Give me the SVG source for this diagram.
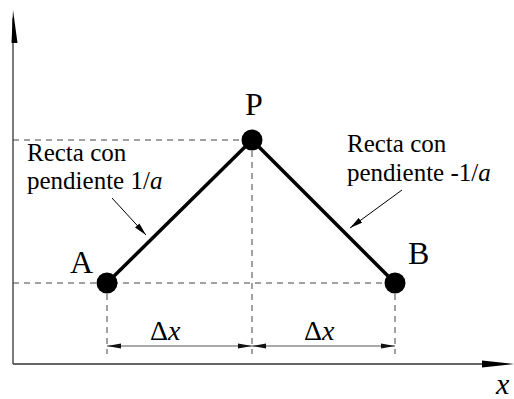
<svg xmlns="http://www.w3.org/2000/svg" width="514" height="399" viewBox="0 0 514 399">
<style>
.t{font-family:"Liberation Serif","Times New Roman",serif;fill:#000}
.dash{stroke:#444;stroke-width:1;stroke-dasharray:6,5;fill:none}
.axis{stroke:#333;stroke-width:1.3;fill:none}
.main{stroke:#000;stroke-width:3.5;fill:none}
.dim{stroke:#555;stroke-width:1.2;fill:none}
.ptr{stroke:#000;stroke-width:1;fill:none}
</style>
<defs>
<marker id="dimArrow" viewBox="0 0 14 6" refX="14" refY="3" markerWidth="14" markerHeight="6" markerUnits="userSpaceOnUse" orient="auto-start-reverse">
<path d="M0,0.5 L14,3 L0,5.5 Z" fill="#111"/>
</marker>
<marker id="ptrArrow" viewBox="0 0 13 6" refX="13" refY="3" markerWidth="13" markerHeight="6" markerUnits="userSpaceOnUse" orient="auto">
<path d="M0,0 L13,3 L0,6 Z" fill="#000"/>
</marker>
</defs>
<g id="axes">
<line class="axis" x1="13" y1="18" x2="13" y2="364"/>
<polygon points="13,10 11.5,43 17.5,43" fill="#000"/>
<line class="axis" x1="13" y1="364" x2="490" y2="364"/>
<polygon points="514,364 482,360.5 482,367.5" fill="#000"/>
<text class="t" x="496" y="394" font-size="30" font-style="italic">x</text>
</g>
<g id="guides">
<line class="dash" x1="13" y1="140" x2="252" y2="140"/>
<line class="dash" x1="13" y1="283" x2="395" y2="283"/>
<line class="dash" x1="252" y1="140" x2="252" y2="354"/>
<line class="dash" x1="107" y1="283" x2="107" y2="354"/>
<line class="dash" x1="395" y1="283" x2="395" y2="354"/>
</g>
<g id="connectors">
<line class="main" x1="107" y1="283" x2="252" y2="140"/>
<line class="main" x1="252" y1="140" x2="395" y2="283"/>
<line class="ptr" x1="112" y1="198" x2="146" y2="235" marker-end="url(#ptrArrow)"/>
<line class="ptr" x1="402" y1="190" x2="350" y2="228" marker-end="url(#ptrArrow)"/>
<line class="dim" x1="107" y1="346" x2="252" y2="346" marker-start="url(#dimArrow)" marker-end="url(#dimArrow)"/>
<line class="dim" x1="252" y1="346" x2="395" y2="346" marker-start="url(#dimArrow)" marker-end="url(#dimArrow)"/>
</g>
<g id="nodeA">
<circle cx="107" cy="283" r="10.5" fill="#000"/>
<text class="t" x="70" y="273" font-size="32">A</text>
</g>
<g id="nodeP">
<circle cx="252" cy="140" r="10.5" fill="#000"/>
<text class="t" x="254" y="115" font-size="32" text-anchor="middle">P</text>
</g>
<g id="nodeB">
<circle cx="395" cy="283" r="10.5" fill="#000"/>
<text class="t" x="408" y="264" font-size="32">B</text>
</g>
<g id="labelLeft">
<text class="t" x="27" y="161" font-size="25">Recta con</text>
<text class="t" x="27" y="189" font-size="25">pendiente 1/<tspan font-style="italic">a</tspan></text>
</g>
<g id="labelRight">
<text class="t" x="347" y="152" font-size="25">Recta con</text>
<text class="t" x="347" y="181" font-size="25">pendiente -1/<tspan font-style="italic">a</tspan></text>
</g>
<g id="dims">
<text class="t" x="150" y="340" font-size="28">Δ<tspan font-style="italic">x</tspan></text>
<text class="t" x="304" y="340" font-size="28">Δ<tspan font-style="italic">x</tspan></text>
</g>
</svg>
